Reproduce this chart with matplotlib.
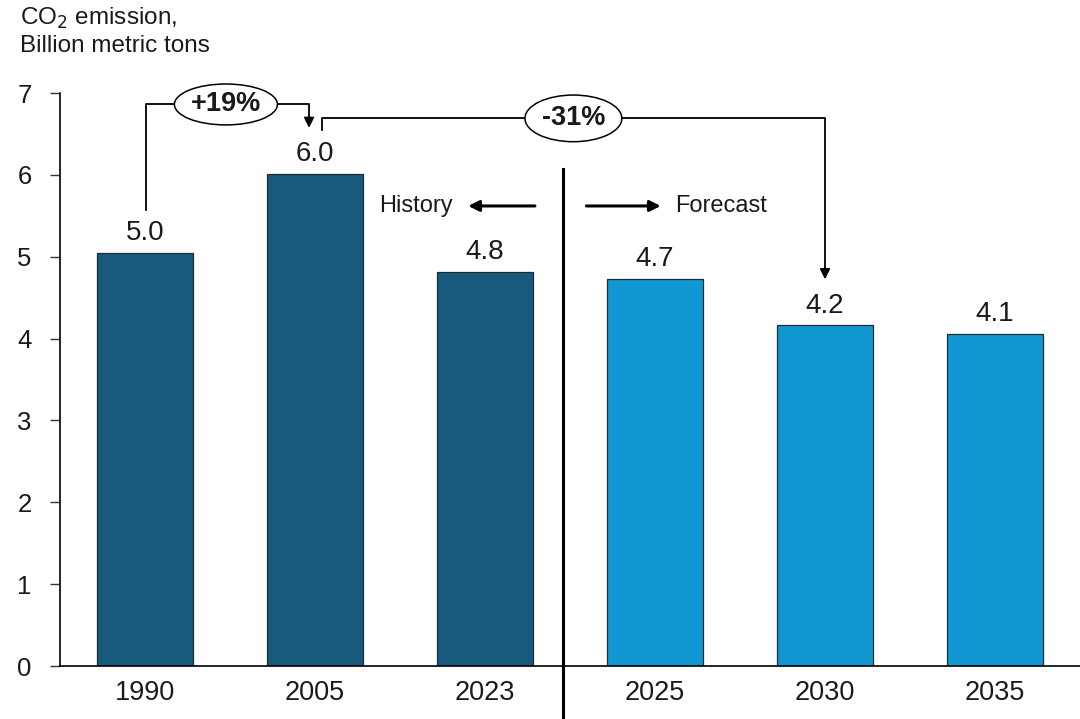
import matplotlib.pyplot as plt
from matplotlib.patches import Ellipse

plt.rcParams['font.family'] = ['Liberation Sans', 'DejaVu Sans']

years = ["1990", "2005", "2023", "2025", "2030", "2035"]
emissions = [5.04, 6.01, 4.81, 4.73, 4.16, 4.06]
isForecast = [False, False, False, True, True, True]

historyColor = "#175a7d"
forecastColor = "#1198d2"

fig = plt.figure(figsize=(10.8, 7.19), dpi=100)
ax = fig.add_axes([60 / 1080, 1 - 666 / 719, 1020 / 1080, 573 / 719])

xs = list(range(len(years)))
colors = [forecastColor if f else historyColor for f in isForecast]
bars = ax.bar(xs, emissions, width=0.56, color=colors, edgecolor="#1c2b36", linewidth=0.9, zorder=2)

for x, v in zip(xs, emissions):
    ax.annotate(f"{v:.1f}", (x, v), xytext=(0, 5), textcoords="offset points",
                ha="center", va="bottom", fontsize=20, color="#1a1a1a")

ax.set_xlim(-0.5, len(years) - 0.5)
ax.set_ylim(0, 7)
ax.set_xticks(xs)
ax.set_xticklabels(years)
ax.set_yticks(range(0, 8))
ax.tick_params(axis="x", length=0, pad=10, labelsize=19.5, labelcolor="#1a1a1a")
ax.tick_params(axis="y", length=7.5, width=1.0, pad=13, labelsize=18.5, labelcolor="#1a1a1a", color="#333333")
for side in ("top", "right"):
    ax.spines[side].set_visible(False)
ax.spines["left"].set_linewidth(1.2)
ax.spines["bottom"].set_linewidth(1.2)

# unit label top-left
fig.text(20 / 1080, 1 - 6 / 719, "CO$_2$ emission,\nBillion metric tons", ha="left", va="top",
         fontsize=17.5, color="#1a1a1a", linespacing=1.25)

# history / forecast divider
splitX = 2.46
ax.plot([splitX, splitX], [-0.62, 6.07], color="black", lw=2.2, clip_on=False, zorder=3)
arrowY = 5.62
ax.annotate("", xy=(1.885, arrowY), xytext=(2.31, arrowY),
            arrowprops=dict(arrowstyle="-|>", color="black", lw=2.2, mutation_scale=16))
ax.annotate("", xy=(3.05, arrowY), xytext=(2.58, arrowY),
            arrowprops=dict(arrowstyle="-|>", color="black", lw=2.2, mutation_scale=16))
ax.text(1.81, arrowY, "History", ha="right", va="center", fontsize=17, color="#1a1a1a")
ax.text(3.12, arrowY, "Forecast", ha="left", va="center", fontsize=17, color="#1a1a1a")


def bracket(ax, x0, x1, y0, yTop, y1, label, center, size):
    ax.plot([x0, x0, x1, x1], [y0, yTop, yTop, y1 + 0.15], color="black", lw=1.3,
            clip_on=False, zorder=3)
    ax.annotate("", xy=(x1, y1), xytext=(x1, y1 + 0.2),
                arrowprops=dict(arrowstyle="-|>", color="black", lw=1.3, mutation_scale=15),
                annotation_clip=False)
    ax.add_patch(Ellipse((center, yTop), size[0], size[1], facecolor="white",
                         edgecolor="black", lw=1.1, clip_on=False, zorder=4))
    ax.text(center, yTop, label, ha="center", va="center", fontsize=19.5,
            fontweight="bold", color="#1a1a1a", zorder=5)


rise = emissions[1] / emissions[0] - 1
drop = emissions[4] / emissions[1] - 1
bracket(ax, 0.005, 0.965, emissions[0] + 0.53, 6.86, 6.54, f"+{rise * 100:.0f}%", 0.476, (0.606, 0.50))
bracket(ax, 1.04, 4.0, 6.55, 6.69, emissions[4] + 0.53, f"{drop * 100:.0f}%", 2.52, (0.57, 0.57))

fig.savefig("out.png", dpi=100, facecolor="white")
